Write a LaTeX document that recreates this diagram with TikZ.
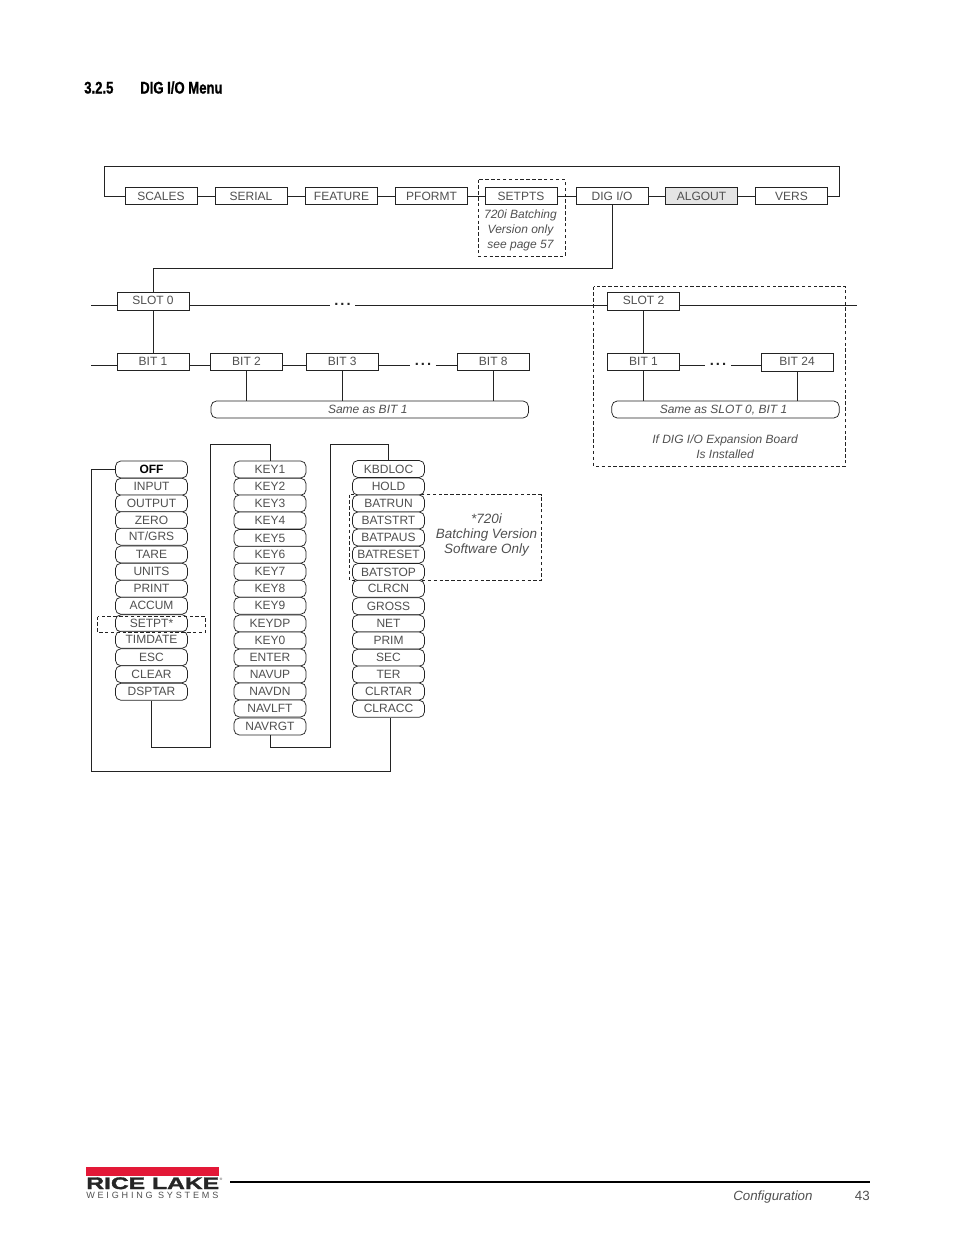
\documentclass[tikz,border=0pt]{standalone}
\usepackage{fontspec}
\setmainfont{Liberation Sans}
\newfontfamily\headfont[FakeStretch=0.78,FakeBold=1]{Liberation Sans Bold}
\newfontfamily\logofont[FakeStretch=1.48,FakeBold=2]{Liberation Sans Bold}
\newfontfamily\tagfont[LetterSpace=31]{Liberation Sans}
\definecolor{menuink}{RGB}{80, 80, 80}
\definecolor{lineink}{RGB}{35, 35, 35}
\definecolor{algoutfill}{RGB}{228, 228, 228}
\definecolor{logored}{RGB}{227, 24, 55}
\usetikzlibrary{positioning, calc}
\newcommand{\gapmark}{.\kern1.6pt.\kern1.6pt.}
\tikzset{
  menubox/.style={draw=lineink, line width=0.7pt, fill=white, minimum width=54pt, minimum height=13pt, inner sep=0pt, text=menuink, font=\fontsize{9}{11}\selectfont, text height=6.5pt, text depth=0pt},
  highbox/.style={menubox, text depth=1.6pt},
  itembox/.style={menubox, rounded corners=4pt, line width=0.55pt, minimum height=12.75pt, text depth=0.4pt},
  samebox/.style={draw=lineink, line width=0.55pt, fill=white, rounded corners=4pt, minimum height=12.75pt, inner sep=0pt, text=menuink, font=\fontsize{9}{11}\itshape\selectfont, text height=6.5pt, text depth=0.8pt},
  note/.style={inner sep=0pt, align=center, text=menuink, font=\fontsize{9}{11.25}\itshape\selectfont},
  dashframe/.style={draw=lineink, line width=0.6pt, dash pattern=on 2.6pt off 1.8pt},
  gapdots/.style={minimum width=18.75pt, inner sep=0pt, text height=5pt, text depth=0pt, text=lineink, font=\fontsize{11}{11}\bfseries\selectfont},
  wire/.style={draw=lineink, line width=0.75pt},
}
\begin{document}
\begin{tikzpicture}[x=0.75pt, y=-0.75pt]
  \useasboundingbox (0,0) rectangle (954,1235);

  % Heading
  \node[anchor=base west, inner sep=0pt, font=\fontsize{12.6}{14}\headfont] (secnum) at (84,93.5) {3.2.5};
  \node[anchor=base west, inner sep=0pt, font=\fontsize{12.6}{14}\headfont] (sectitle) at (140,93.5) {DIG I/O Menu};

  % Frames that sit behind the boxes
  \draw[dashframe] (478.5,179.5) rectangle (565,256.5);
  \draw[dashframe] (593.5,286.5) rectangle (845.5,466);
  \draw[dashframe] (349.5,494.5) rectangle (541.5,580.5);

  % Top menu
  \node[menubox] (scales) at (161,196) {SCALES};
  \node[menubox] (serial) at (251,196) {SERIAL};
  \node[menubox] (feature) at (341.5,196) {FEATURE};
  \node[menubox] (pformt) at (431.5,196) {PFORMT};
  \node[menubox] (setpts) at (521,196) {SETPTS};
  \node[menubox] (digio) at (612,196) {DIG I/O};
  \node[menubox, fill=algoutfill] (algout) at (701.5,196) {ALGOUT};
  \node[menubox] (vers) at (791.5,196) {VERS};
  \node[note] (setptsnote) at (520.5,230.5) {720i Batching\\Version only\\see page 57};
  \draw[wire] (scales) -- (serial);
  \draw[wire] (serial) -- (feature);
  \draw[wire] (feature) -- (pformt);
  \draw[wire] (pformt) -- (setpts);
  \draw[wire] (setpts) -- (digio);
  \draw[wire] (digio) -- (algout);
  \draw[wire] (algout) -- (vers);
  \coordinate (loopleft) at (104,166.5);
  \coordinate (loopright) at (839.5,166.5);
  \draw[wire] (scales.west) -| (loopleft) -- (loopright) |- (vers.east);

  % Slots
  \node[highbox] (slot0) at (153,301.5) {SLOT 0};
  \node[highbox] (slot2) at (643.5,301.5) {SLOT 2};
  \node[gapdots] (slotdots) at (342.5,302) {\gapmark};
  \coordinate (slotin) at (91,305);
  \coordinate (slotout) at (857,305);
  \coordinate (digdrop) at (612,268);
  \draw[wire] (digio.south) -- (digdrop) -| (slot0.north);
  \draw[wire] (slotin) -- (slotin -| slot0.west);
  \draw[wire] (slot0.east |- slotin) -- (slotin -| slotdots.west);
  \draw[wire] (slotin -| slotdots.east) -- (slotin -| slot2.west);
  \draw[wire] (slot2.east |- slotin) -- (slotout);

  % Bits of slot 0
  \node[highbox] (bit1) at (153,361.75) {BIT 1};
  \node[highbox] (bit2) at (246.5,361.75) {BIT 2};
  \node[highbox] (bit3) at (342.25,361.75) {BIT 3};
  \node[highbox] (bit8) at (493.25,361.75) {BIT 8};
  \node[gapdots] (bitdots) at (423,362) {\gapmark};
  \node[samebox, minimum width=238pt] (samebit) at (369.75,409.5) {Same as BIT 1\kern3pt};
  \coordinate (bitin) at (91,365);
  \draw[wire] (slot0) -- (bit1);
  \draw[wire] (bitin) -- (bitin -| bit1.west);
  \draw[wire] (bit1.east |- bitin) -- (bitin -| bit2.west);
  \draw[wire] (bit2.east |- bitin) -- (bitin -| bit3.west);
  \draw[wire] (bit3.east |- bitin) -- (bitin -| bitdots.west);
  \draw[wire] (bitin -| bitdots.east) -- (bitin -| bit8.west);
  \draw[wire] (bit2.south) -- (bit2.south |- samebit.north);
  \draw[wire] (bit3.south) -- (bit3.south |- samebit.north);
  \draw[wire] (bit8.south) -- (bit8.south |- samebit.north);

  % Bits of slot 2
  \node[highbox] (slotbit1) at (643.5,361.75) {BIT 1};
  \node[highbox] (slotbit24) at (797,362.5) {BIT 24};
  \node[gapdots] (slotbitdots) at (718,362) {\gapmark};
  \node[samebox, minimum width=170.5pt] (sameslot) at (725.5,409.5) {Same as SLOT 0, BIT 1\kern3pt};
  \node[note] (expnote) at (725,447) {If DIG I/O Expansion Board\\Is Installed};
  \draw[wire] (slot2) -- (slotbit1);
  \draw[wire] (slotbit1.east |- bitin) -- (bitin -| slotbitdots.west);
  \draw[wire] (bitin -| slotbitdots.east) -- (bitin -| slotbit24.west);
  \draw[wire] (slotbit1.south) -- (slotbit1.south |- sameslot.north);
  \draw[wire] (slotbit24.south) -- (slotbit24.south |- sameslot.north);

  % First column
  \node[itembox, font=\fontsize{9}{11}\bfseries\selectfont, text=black] (off) at (151.5,469.5) {OFF};
  \node[itembox] (input) at (151.5,486.75) {INPUT};
  \node[itembox] (output) at (151.5,503.5) {OUTPUT};
  \node[itembox] (zero) at (151.5,520.25) {ZERO};
  \node[itembox] (ntgrs) at (151.5,536.75) {NT/GRS};
  \node[itembox] (tare) at (151.5,554.5) {TARE};
  \node[itembox] (units) at (151.5,571.75) {UNITS};
  \node[itembox] (print) at (151.5,588.75) {PRINT};
  \node[itembox] (accum) at (151.5,605.75) {ACCUM};
  \node[itembox] (setpt) at (151.5,623.25) {SETPT*};
  \node[itembox] (timdate) at (151.5,639.75) {TIMDATE};
  \node[itembox] (esc) at (151.5,657.25) {ESC};
  \node[itembox] (clear) at (151.5,674.25) {CLEAR};
  \node[itembox] (dsptar) at (151.5,691.75) {DSPTAR};
  \draw[dashframe] (97.5,616.5) rectangle (205.5,632.5);

  % Second column
  \node[itembox] (key1) at (270,469.5) {KEY1};
  \node[itembox] (key2) at (270,486.75) {KEY2};
  \node[itembox] (key3) at (270,503.5) {KEY3};
  \node[itembox] (key4) at (270,520.5) {KEY4};
  \node[itembox] (key5) at (270,538) {KEY5};
  \node[itembox] (key6) at (270,554.75) {KEY6};
  \node[itembox] (key7) at (270,571.75) {KEY7};
  \node[itembox] (key8) at (270,588.75) {KEY8};
  \node[itembox] (key9) at (270,605.75) {KEY9};
  \node[itembox] (keydp) at (270,623.5) {KEYDP};
  \node[itembox] (key0) at (270,640.5) {KEY0};
  \node[itembox] (enter) at (270,657.5) {ENTER};
  \node[itembox] (navup) at (270,674.5) {NAVUP};
  \node[itembox] (navdn) at (270,691.5) {NAVDN};
  \node[itembox] (navlft) at (270,708.5) {NAVLFT};
  \node[itembox] (navrgt) at (270,726.5) {NAVRGT};

  % Third column
  \node[itembox] (kbdloc) at (388.5,469) {KBDLOC};
  \node[itembox] (hold) at (388.5,486.5) {HOLD};
  \node[itembox] (batrun) at (388.5,503.5) {BATRUN};
  \node[itembox] (batstrt) at (388.5,520.5) {BATSTRT};
  \node[itembox] (batpaus) at (388.5,537.5) {BATPAUS};
  \node[itembox] (batreset) at (388.5,554.75) {BATRESET};
  \node[itembox] (batstop) at (388.5,572) {BATSTOP};
  \node[itembox] (clrcn) at (388.5,588.75) {CLRCN};
  \node[itembox] (gross) at (388.5,606.25) {GROSS};
  \node[itembox] (net) at (388.5,623.5) {NET};
  \node[itembox] (prim) at (388.5,640.5) {PRIM};
  \node[itembox] (sec) at (388.5,657.75) {SEC};
  \node[itembox] (ter) at (388.5,674.5) {TER};
  \node[itembox] (clrtar) at (388.5,691.5) {CLRTAR};
  \node[itembox] (clracc) at (388.5,708.75) {CLRACC};
  \node[note, font=\fontsize{10.1}{10.9}\itshape\selectfont] (batchnote) at (486.5,535) {*720i\\Batching Version\\Software Only};

  % Column links
  \coordinate (dspbottom) at (151.5,747);
  \coordinate (keyrise) at (210.5,747);
  \coordinate (keytop) at (210.5,444.5);
  \draw[wire] (dsptar.south) -- (dspbottom) -- (keyrise) -- (keytop) -| (key1.north);
  \coordinate (navbottom) at (270,747);
  \coordinate (kbdrise) at (330.5,747);
  \coordinate (kbdtop) at (330.5,444.5);
  \draw[wire] (navrgt.south) -- (navbottom) -- (kbdrise) -- (kbdtop) -| (kbdloc.north);
  \coordinate (retleft) at (91.5,771);
  \coordinate (retright) at (390.5,771);
  \draw[wire] (off.west) -| (retleft) -- (retright) -- (retright |- clracc.south);

  % Footer
  \fill[logored] (86,1167) rectangle (219,1175.5);
  \node[anchor=base west, inner sep=0pt, text=black!85, font=\fontsize{12.5}{13}\logofont] (logomark) at (86,1189) {RICE LAKE};
  \node[anchor=base west, inner sep=0pt, text=black!85, font=\fontsize{2.5}{3}\selectfont] (logoreg) at (219.5,1180) {®};
  \node[anchor=base west, inner sep=0pt, text=menuink, font=\fontsize{6.8}{7}\tagfont] (logotag) at (86,1198) {WEIGHING SYSTEMS};
  \coordinate (rulestart) at (230,1182);
  \coordinate (ruleend) at (870,1182);
  \draw[draw=black, line width=1.5pt] (rulestart) -- (ruleend);
  \node[anchor=base west, inner sep=0pt, text=menuink, font=\fontsize{10}{12}\itshape\selectfont] (chapter) at (733,1200) {Configuration};
  \node[anchor=base east, inner sep=0pt, text=menuink, font=\fontsize{10}{12}\selectfont] (pagenum) at (870,1200) {43};
\end{tikzpicture}
\end{document}
